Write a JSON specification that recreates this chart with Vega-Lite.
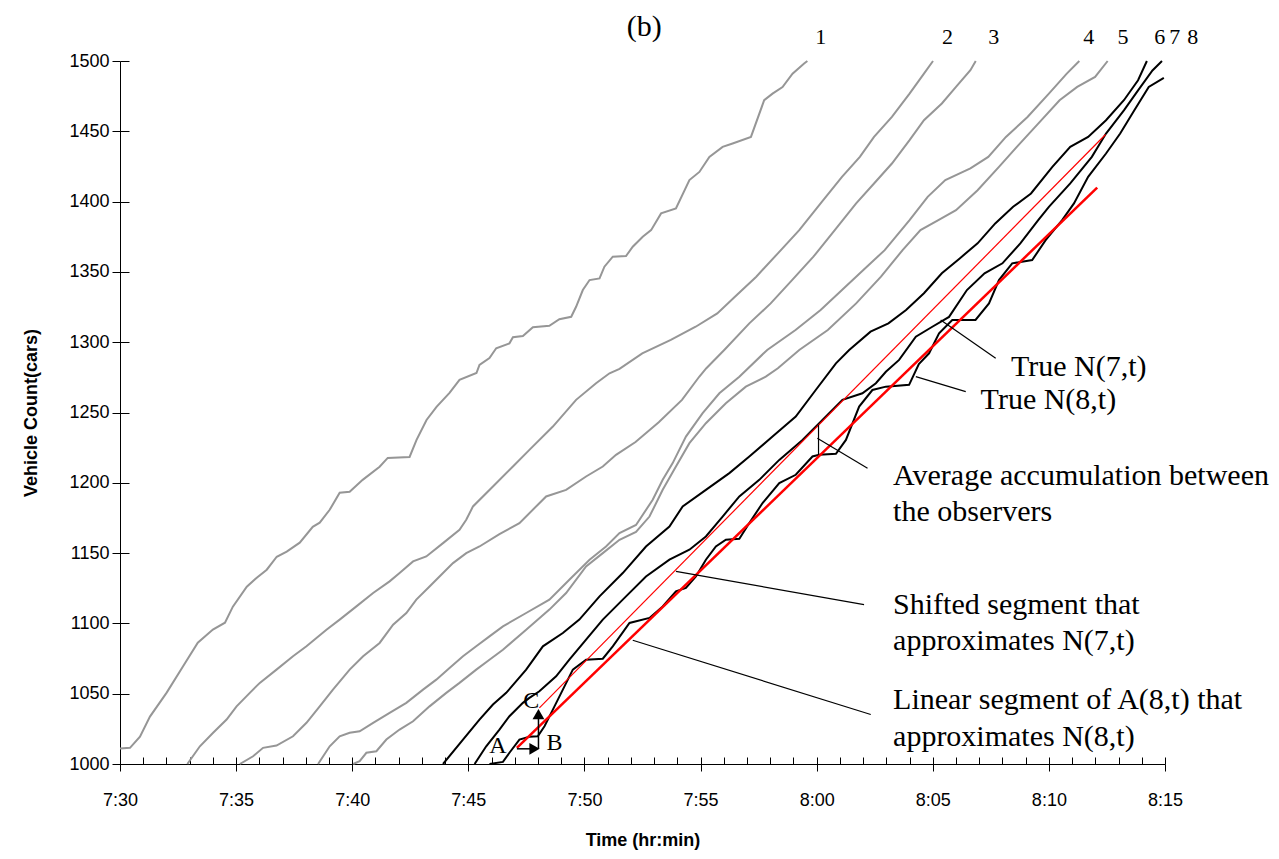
{
  "$schema": "https://vega.github.io/schema/vega-lite/v6.json",
  "width": 1045,
  "height": 703,
  "autosize": {"type": "none"},
  "padding": {"left": 120, "top": 61, "right": 114, "bottom": 95},
  "background": "white",
  "config": {"view": {"stroke": null}, "axis": {"grid": false}},
  "resolve": {"axis": {"x": "independent", "y": "independent"}},
  "datasets": {
    "curves": [
      {"curve":1,"time":0,"count":1011},{"curve":1,"time":0.43,"count":1011.5},{"curve":1,"time":0.86,"count":1019.5},{"curve":1,"time":1.29,"count":1033.7},{"curve":1,"time":2.01,"count":1050.8},{"curve":1,"time":2.71,"count":1069.3},{"curve":1,"time":3.35,"count":1086.3},{"curve":1,"time":4.0,"count":1095.6},{"curve":1,"time":4.52,"count":1100.5},{"curve":1,"time":4.86,"count":1111.9},{"curve":1,"time":5.46,"count":1126.1},{"curve":1,"time":5.89,"count":1132.5},{"curve":1,"time":6.32,"count":1138.2},{"curve":1,"time":6.75,"count":1147.4},{"curve":1,"time":7.18,"count":1151},{"curve":1,"time":7.74,"count":1157.4},{"curve":1,"time":8.3,"count":1168.7},{"curve":1,"time":8.6,"count":1171.6},{"curve":1,"time":9.03,"count":1180.8},{"curve":1,"time":9.46,"count":1192.9},{"curve":1,"time":9.89,"count":1193.6},{"curve":1,"time":10.45,"count":1202.1},{"curve":1,"time":11.18,"count":1211.4},{"curve":1,"time":11.53,"count":1217.7},{"curve":1,"time":12.47,"count":1218.4},{"curve":1,"time":12.77,"count":1230.5},{"curve":1,"time":13.2,"count":1244.7},{"curve":1,"time":13.63,"count":1254},{"curve":1,"time":14.19,"count":1263.9},{"curve":1,"time":14.62,"count":1273.2},{"curve":1,"time":15.35,"count":1278.1},{"curve":1,"time":15.48,"count":1283.8},{"curve":1,"time":15.91,"count":1288.7},{"curve":1,"time":16.2,"count":1295.7},{"curve":1,"time":16.77,"count":1299.2},{"curve":1,"time":16.92,"count":1303.5},{"curve":1,"time":17.35,"count":1304.4},{"curve":1,"time":17.78,"count":1310.6},{"curve":1,"time":18.49,"count":1311.7},{"curve":1,"time":18.92,"count":1316.3},{"curve":1,"time":19.43,"count":1318.1},{"curve":1,"time":19.64,"count":1325.2},{"curve":1,"time":19.93,"count":1337.1},{"curve":1,"time":20.22,"count":1344.2},{"curve":1,"time":20.65,"count":1345.4},{"curve":1,"time":20.86,"count":1353.7},{"curve":1,"time":21.22,"count":1360.8},{"curve":1,"time":21.79,"count":1361.3},{"curve":1,"time":22.08,"count":1367.9},{"curve":1,"time":22.51,"count":1375},{"curve":1,"time":22.87,"count":1379.7},{"curve":1,"time":23.3,"count":1391.6},{"curve":1,"time":23.94,"count":1395.1},{"curve":1,"time":24.52,"count":1415.3},{"curve":1,"time":24.95,"count":1421.1},{"curve":1,"time":25.38,"count":1431.8},{"curve":1,"time":25.95,"count":1438.9},{"curve":1,"time":26.38,"count":1441.3},{"curve":1,"time":27.17,"count":1446},{"curve":1,"time":27.74,"count":1472.1},{"curve":1,"time":28.1,"count":1476.8},{"curve":1,"time":28.53,"count":1481.5},{"curve":1,"time":28.96,"count":1491},{"curve":1,"time":29.46,"count":1498.2},{"curve":1,"time":29.6,"count":1500},
      {"curve":2,"time":2.9,"count":1000},{"curve":2,"time":3.44,"count":1012.6},{"curve":2,"time":4.01,"count":1022.2},{"curve":2,"time":4.59,"count":1031.6},{"curve":2,"time":5.02,"count":1041},{"curve":2,"time":5.59,"count":1050.6},{"curve":2,"time":6.02,"count":1057.7},{"curve":2,"time":6.74,"count":1067.1},{"curve":2,"time":7.45,"count":1076.6},{"curve":2,"time":8.03,"count":1083.7},{"curve":2,"time":8.89,"count":1095.5},{"curve":2,"time":9.46,"count":1102.7},{"curve":2,"time":10.18,"count":1112.1},{"curve":2,"time":10.9,"count":1121.6},{"curve":2,"time":11.61,"count":1129.9},{"curve":2,"time":12.04,"count":1135.8},{"curve":2,"time":12.62,"count":1144.1},{"curve":2,"time":13.19,"count":1147.6},{"curve":2,"time":13.91,"count":1157.1},{"curve":2,"time":14.62,"count":1166.6},{"curve":2,"time":14.91,"count":1173.7},{"curve":2,"time":15.2,"count":1183.2},{"curve":2,"time":16.06,"count":1197.4},{"curve":2,"time":16.92,"count":1211.6},{"curve":2,"time":17.63,"count":1223.4},{"curve":2,"time":18.64,"count":1240},{"curve":2,"time":19.64,"count":1259},{"curve":2,"time":20.5,"count":1270.8},{"curve":2,"time":21.08,"count":1277.9},{"curve":2,"time":21.51,"count":1281},{"curve":2,"time":22.49,"count":1292.1},{"curve":2,"time":23.72,"count":1301.6},{"curve":2,"time":24.79,"count":1311},{"curve":2,"time":25.72,"count":1320.5},{"curve":2,"time":26.48,"count":1332.3},{"curve":2,"time":27.4,"count":1346.6},{"curve":2,"time":28.33,"count":1363.2},{"curve":2,"time":29.25,"count":1379.7},{"curve":2,"time":30.17,"count":1398.7},{"curve":2,"time":31.09,"count":1417.6},{"curve":2,"time":31.86,"count":1431.8},{"curve":2,"time":32.47,"count":1446},{"curve":2,"time":33.24,"count":1460.2},{"curve":2,"time":34,"count":1476.8},{"curve":2,"time":34.62,"count":1491},{"curve":2,"time":35.01,"count":1500},
      {"curve":3,"time":5.16,"count":1000},{"curve":3,"time":5.73,"count":1005.5},{"curve":3,"time":6.16,"count":1011.5},{"curve":3,"time":6.74,"count":1013.1},{"curve":3,"time":7.45,"count":1019.7},{"curve":3,"time":8.03,"count":1029.3},{"curve":3,"time":8.6,"count":1041},{"curve":3,"time":9.17,"count":1052.9},{"curve":3,"time":9.89,"count":1067.1},{"curve":3,"time":10.47,"count":1076.6},{"curve":3,"time":11.18,"count":1086.1},{"curve":3,"time":11.76,"count":1099.1},{"curve":3,"time":12.33,"count":1107.4},{"curve":3,"time":12.76,"count":1116.9},{"curve":3,"time":13.33,"count":1126.3},{"curve":3,"time":13.91,"count":1135.8},{"curve":3,"time":14.34,"count":1142.9},{"curve":3,"time":14.91,"count":1150},{"curve":3,"time":15.48,"count":1154.7},{"curve":3,"time":16.34,"count":1163.5},{"curve":3,"time":17.2,"count":1171.3},{"curve":3,"time":18.35,"count":1190.3},{"curve":3,"time":19.21,"count":1195},{"curve":3,"time":20.07,"count":1204.5},{"curve":3,"time":20.79,"count":1211.6},{"curve":3,"time":21.36,"count":1219.9},{"curve":3,"time":22.2,"count":1229},{"curve":3,"time":23.2,"count":1243},{"curve":3,"time":24.2,"count":1259},{"curve":3,"time":24.95,"count":1275.6},{"curve":3,"time":25.25,"count":1281.5},{"curve":3,"time":26.02,"count":1294.5},{"curve":3,"time":27.1,"count":1313.4},{"curve":3,"time":28.02,"count":1327.6},{"curve":3,"time":28.94,"count":1344.2},{"curve":3,"time":29.86,"count":1360.8},{"curve":3,"time":30.78,"count":1379.7},{"curve":3,"time":31.7,"count":1398.7},{"curve":3,"time":32.47,"count":1412.9},{"curve":3,"time":33.24,"count":1427.1},{"curve":3,"time":34,"count":1443.7},{"curve":3,"time":34.62,"count":1457.9},{"curve":3,"time":35.39,"count":1469.8},{"curve":3,"time":36,"count":1481.6},{"curve":3,"time":36.62,"count":1493.5},{"curve":3,"time":36.85,"count":1500},
      {"curve":4,"time":8.53,"count":1000},{"curve":4,"time":9.03,"count":1012.6},{"curve":4,"time":9.46,"count":1019.7},{"curve":4,"time":9.89,"count":1022.2},{"curve":4,"time":10.32,"count":1023.3},{"curve":4,"time":10.9,"count":1029.3},{"curve":4,"time":11.61,"count":1036.4},{"curve":4,"time":12.33,"count":1043.5},{"curve":4,"time":13.05,"count":1052.9},{"curve":4,"time":13.62,"count":1060},{"curve":4,"time":14.19,"count":1068.3},{"curve":4,"time":14.77,"count":1076.6},{"curve":4,"time":15.34,"count":1083.7},{"curve":4,"time":15.91,"count":1090.8},{"curve":4,"time":16.49,"count":1097.9},{"curve":4,"time":17.49,"count":1107.4},{"curve":4,"time":18.49,"count":1116.9},{"curve":4,"time":19.35,"count":1131.1},{"curve":4,"time":20.22,"count":1145.3},{"curve":4,"time":20.93,"count":1154.7},{"curve":4,"time":21.51,"count":1164.2},{"curve":4,"time":22.22,"count":1170},{"curve":4,"time":22.94,"count":1187.9},{"curve":4,"time":23.37,"count":1202.1},{"curve":4,"time":23.8,"count":1214},{"curve":4,"time":24.37,"count":1232.9},{"curve":4,"time":25.09,"count":1249.5},{"curve":4,"time":25.81,"count":1263.7},{"curve":4,"time":26.67,"count":1275.5},{"curve":4,"time":27.87,"count":1294.5},{"curve":4,"time":29.09,"count":1308.7},{"curve":4,"time":30.17,"count":1322.9},{"curve":4,"time":31.09,"count":1337.1},{"curve":4,"time":32.01,"count":1351.3},{"curve":4,"time":32.93,"count":1365.5},{"curve":4,"time":34,"count":1386.8},{"curve":4,"time":34.78,"count":1403.4},{"curve":4,"time":35.54,"count":1415.3},{"curve":4,"time":36.62,"count":1423.6},{"curve":4,"time":37.39,"count":1431.8},{"curve":4,"time":38.15,"count":1446},{"curve":4,"time":39.08,"count":1460.2},{"curve":4,"time":40,"count":1476.8},{"curve":4,"time":40.77,"count":1491},{"curve":4,"time":41.31,"count":1500},
      {"curve":5,"time":10.04,"count":1000},{"curve":5,"time":10.32,"count":1002},{"curve":5,"time":10.61,"count":1008},{"curve":5,"time":11.04,"count":1009.1},{"curve":5,"time":11.47,"count":1017.4},{"curve":5,"time":12.04,"count":1024.5},{"curve":5,"time":12.62,"count":1030.4},{"curve":5,"time":13.33,"count":1041},{"curve":5,"time":14.05,"count":1050.6},{"curve":5,"time":14.62,"count":1057.7},{"curve":5,"time":15.34,"count":1067.1},{"curve":5,"time":15.91,"count":1074.2},{"curve":5,"time":16.49,"count":1081.3},{"curve":5,"time":17.49,"count":1095.5},{"curve":5,"time":18.49,"count":1109.8},{"curve":5,"time":19.21,"count":1121.6},{"curve":5,"time":20.07,"count":1140.5},{"curve":5,"time":20.79,"count":1150},{"curve":5,"time":21.51,"count":1159.5},{"curve":5,"time":22.22,"count":1165},{"curve":5,"time":22.8,"count":1176},{"curve":5,"time":23.37,"count":1195},{"curve":5,"time":23.94,"count":1211.6},{"curve":5,"time":24.52,"count":1228.2},{"curve":5,"time":25.23,"count":1242.4},{"curve":5,"time":26.09,"count":1256.6},{"curve":5,"time":26.95,"count":1268.4},{"curve":5,"time":27.81,"count":1275.5},{"curve":5,"time":28.33,"count":1281.5},{"curve":5,"time":29.25,"count":1294.5},{"curve":5,"time":30.48,"count":1308.7},{"curve":5,"time":31.7,"count":1327.6},{"curve":5,"time":32.77,"count":1346.6},{"curve":5,"time":33.7,"count":1365.5},{"curve":5,"time":34.47,"count":1379.7},{"curve":5,"time":35.24,"count":1386.8},{"curve":5,"time":36,"count":1393.9},{"curve":5,"time":36.93,"count":1408.1},{"curve":5,"time":37.85,"count":1424.7},{"curve":5,"time":38.62,"count":1438.9},{"curve":5,"time":39.54,"count":1455.5},{"curve":5,"time":40.46,"count":1472.1},{"curve":5,"time":41.22,"count":1481.6},{"curve":5,"time":41.99,"count":1488.7},{"curve":5,"time":42.53,"count":1500},
      {"curve":6,"time":13.91,"count":1000},{"curve":6,"time":14.77,"count":1017.4},{"curve":6,"time":15.48,"count":1031.6},{"curve":6,"time":16.06,"count":1042.3},{"curve":6,"time":16.63,"count":1050.6},{"curve":6,"time":17.49,"count":1067.1},{"curve":6,"time":18.21,"count":1083.7},{"curve":6,"time":19.07,"count":1093.2},{"curve":6,"time":19.78,"count":1102.7},{"curve":6,"time":20.65,"count":1119.2},{"curve":6,"time":21.65,"count":1135.8},{"curve":6,"time":22.65,"count":1154.7},{"curve":6,"time":23.66,"count":1168.9},{"curve":6,"time":24.23,"count":1183.2},{"curve":6,"time":25.23,"count":1195},{"curve":6,"time":26.24,"count":1206.9},{"curve":6,"time":27.1,"count":1218.7},{"curve":6,"time":28.1,"count":1232.9},{"curve":6,"time":29.1,"count":1247.1},{"curve":6,"time":29.96,"count":1266},{"curve":6,"time":30.83,"count":1285},{"curve":6,"time":31.4,"count":1294.5},{"curve":6,"time":32.32,"count":1307.5},{"curve":6,"time":33.09,"count":1313.4},{"curve":6,"time":33.85,"count":1322.9},{"curve":6,"time":34.62,"count":1334.8},{"curve":6,"time":35.39,"count":1349},{"curve":6,"time":36.16,"count":1359.6},{"curve":6,"time":36.93,"count":1370.3},{"curve":6,"time":37.69,"count":1384.5},{"curve":6,"time":38.46,"count":1396.3},{"curve":6,"time":39.23,"count":1405.8},{"curve":6,"time":40.15,"count":1424.7},{"curve":6,"time":40.92,"count":1438.9},{"curve":6,"time":41.69,"count":1446},{"curve":6,"time":42.46,"count":1457.9},{"curve":6,"time":43.23,"count":1472.1},{"curve":6,"time":43.84,"count":1486.3},{"curve":6,"time":44.22,"count":1500},
      {"curve":7,"time":15.27,"count":1000},{"curve":7,"time":15.77,"count":1012.6},{"curve":7,"time":16.34,"count":1024.5},{"curve":7,"time":16.77,"count":1034},{"curve":7,"time":17.35,"count":1043.5},{"curve":7,"time":17.63,"count":1047},{"curve":7,"time":18.06,"count":1051.7},{"curve":7,"time":18.78,"count":1062.4},{"curve":7,"time":19.35,"count":1074.2},{"curve":7,"time":20.07,"count":1088.4},{"curve":7,"time":20.79,"count":1102.7},{"curve":7,"time":21.65,"count":1116.9},{"curve":7,"time":22.65,"count":1133.4},{"curve":7,"time":23.66,"count":1145.3},{"curve":7,"time":24.52,"count":1152.4},{"curve":7,"time":25.23,"count":1161.8},{"curve":7,"time":25.95,"count":1176},{"curve":7,"time":26.67,"count":1190.3},{"curve":7,"time":27.53,"count":1202.1},{"curve":7,"time":28.39,"count":1216.3},{"curve":7,"time":29.39,"count":1230.5},{"curve":7,"time":30.11,"count":1242.4},{"curve":7,"time":31.11,"count":1259},{"curve":7,"time":31.97,"count":1263.7},{"curve":7,"time":32.55,"count":1270.8},{"curve":7,"time":32.98,"count":1279},{"curve":7,"time":33.55,"count":1287.4},{"curve":7,"time":34.27,"count":1303.9},{"curve":7,"time":34.98,"count":1311},{"curve":7,"time":35.7,"count":1318},{"curve":7,"time":36.47,"count":1337.1},{"curve":7,"time":37.23,"count":1349},{"curve":7,"time":38,"count":1356.1},{"curve":7,"time":38.77,"count":1370.3},{"curve":7,"time":39.54,"count":1386.8},{"curve":7,"time":40,"count":1396.3},{"curve":7,"time":40.92,"count":1412.9},{"curve":7,"time":41.85,"count":1431.8},{"curve":7,"time":42.46,"count":1448.4},{"curve":7,"time":43.23,"count":1464.9},{"curve":7,"time":43.84,"count":1479.1},{"curve":7,"time":44.46,"count":1493.3},{"curve":7,"time":44.87,"count":1500},
      {"curve":8,"time":15.91,"count":1000},{"curve":8,"time":16.49,"count":1001.5},{"curve":8,"time":16.77,"count":1008},{"curve":8,"time":17.2,"count":1017.4},{"curve":8,"time":17.63,"count":1019.3},{"curve":8,"time":17.99,"count":1019.7},{"curve":8,"time":18.28,"count":1026.9},{"curve":8,"time":18.64,"count":1038.7},{"curve":8,"time":19.07,"count":1052.9},{"curve":8,"time":19.5,"count":1067.1},{"curve":8,"time":20.07,"count":1074.2},{"curve":8,"time":20.79,"count":1074.9},{"curve":8,"time":21.22,"count":1083.7},{"curve":8,"time":21.94,"count":1100.3},{"curve":8,"time":22.8,"count":1103.9},{"curve":8,"time":23.37,"count":1112.1},{"curve":8,"time":23.94,"count":1122.8},{"curve":8,"time":24.37,"count":1125.2},{"curve":8,"time":24.8,"count":1133.4},{"curve":8,"time":25.23,"count":1145.3},{"curve":8,"time":25.66,"count":1154.7},{"curve":8,"time":26.09,"count":1159.5},{"curve":8,"time":26.67,"count":1160.2},{"curve":8,"time":27.1,"count":1171.4},{"curve":8,"time":27.67,"count":1185.6},{"curve":8,"time":28.39,"count":1199.8},{"curve":8,"time":29.1,"count":1205.7},{"curve":8,"time":29.82,"count":1218.7},{"curve":8,"time":30.11,"count":1219.9},{"curve":8,"time":30.83,"count":1220.6},{"curve":8,"time":31.26,"count":1230.5},{"curve":8,"time":31.83,"count":1254.2},{"curve":8,"time":32.4,"count":1266},{"curve":8,"time":32.98,"count":1268.4},{"curve":8,"time":33.98,"count":1269.7},{"curve":8,"time":34.4,"count":1284.4},{"curve":8,"time":34.84,"count":1292.1},{"curve":8,"time":35.27,"count":1306.3},{"curve":8,"time":35.84,"count":1315.8},{"curve":8,"time":36.84,"count":1315.8},{"curve":8,"time":37.42,"count":1327.6},{"curve":8,"time":37.85,"count":1344.2},{"curve":8,"time":38.42,"count":1356.1},{"curve":8,"time":39.28,"count":1358.4},{"curve":8,"time":39.86,"count":1372.6},{"curve":8,"time":40.57,"count":1386.8},{"curve":8,"time":41.08,"count":1398.7},{"curve":8,"time":41.69,"count":1417.6},{"curve":8,"time":42.46,"count":1434.2},{"curve":8,"time":43.07,"count":1448.4},{"curve":8,"time":43.68,"count":1464.9},{"curve":8,"time":44.3,"count":1481.6},{"curve":8,"time":44.95,"count":1488}
    ],
    "shifted": [{"time":18.06,"count":1039.9},{"time":42.44,"count":1447.7}],
    "linear": [{"time":17.09,"count":1011.5},{"time":42.08,"count":1410}],
    "pointers": [
      {"time":35.34,"count":1315.8,"time2":37.71,"count2":1288.6},
      {"time":34.27,"count":1275.5,"time2":36.42,"count2":1264.8},
      {"time":30.03,"count":1231.7,"time2":32.19,"count2":1210.4},
      {"time":30.08,"count":1241.2,"time2":30.08,"count2":1219.9},
      {"time":23.94,"count":1137,"time2":32.04,"count2":1113.3},
      {"time":22.08,"count":1088,"time2":32.33,"count2":1035.2}
    ],
    "arrows": [
      {"time":17.09,"count":1010.8,"time2":17.85,"count2":1010.8},
      {"time":18.02,"count":1010.8,"time2":18.02,"count2":1036}
    ],
    "heads": [
      {"time":17.85,"count":1010.8,"shape":"triangle-right"},
      {"time":18.02,"count":1035.5,"shape":"triangle-up"}
    ],
    "notes": [
      {"time":38.37,"count":1282.4,"label":"True N(7,t)"},
      {"time":37.06,"count":1258.9,"label":"True N(8,t)"},
      {"time":33.29,"count":1204.5,"label":"Average accumulation between"},
      {"time":33.29,"count":1179.4,"label":"the observers"},
      {"time":33.29,"count":1113.3,"label":"Shifted segment that"},
      {"time":33.29,"count":1087.7,"label":"approximates N(7,t)"},
      {"time":33.29,"count":1045.8,"label":"Linear segment of A(8,t) that"},
      {"time":33.29,"count":1019.5,"label":"approximates N(8,t)"}
    ],
    "letters": [
      {"time":16.27,"count":1012.6,"label":"A"},
      {"time":18.71,"count":1014.6,"label":"B"},
      {"time":17.71,"count":1044.6,"label":"C"}
    ],
    "numbers": [
      {"time":30.18,"count":1516.8,"label":"1"},
      {"time":35.63,"count":1516.8,"label":"2"},
      {"time":37.63,"count":1516.8,"label":"3"},
      {"time":41.72,"count":1516.8,"label":"4"},
      {"time":43.19,"count":1516.8,"label":"5"},
      {"time":44.77,"count":1516.8,"label":"6"},
      {"time":45.42,"count":1516.8,"label":"7"},
      {"time":46.19,"count":1516.8,"label":"8"}
    ],
    "heading": [{"time":22.58,"count":1524.1,"label":"(b)"}]
  },
  "layer": [
    {
      "data": {"name": "curves"},
      "mark": {"type": "line", "strokeWidth": 2, "interpolate": "linear"},
      "encoding": {
        "x": {"field": "time", "type": "quantitative", "scale": {"domain": [0, 45], "nice": false, "zero": false},
          "axis": {"orient": "bottom", "values": [0,5,10,15,20,25,30,35,40,45],
            "labelExpr": "floor((450 + datum.value) / 60) + ':' + ((450 + datum.value) % 60 < 10 ? '0' : '') + ((450 + datum.value) % 60)",
            "tickSize": 7, "tickColor": "black", "tickWidth": 1, "domain": true, "domainColor": "black", "domainWidth": 1,
            "labelFont": "Liberation Sans", "labelFontSize": 18, "labelColor": "black", "labelPadding": 20, "labelFlush": false, "labelOverlap": false,
            "title": "Time (hr:min)", "titleFont": "Liberation Sans", "titleFontSize": 18, "titleFontWeight": "bold", "titleColor": "black", "titlePadding": 22}},
        "y": {"field": "count", "type": "quantitative", "scale": {"domain": [1000, 1500], "nice": false, "zero": false},
          "axis": {"orient": "left", "values": [1000,1050,1100,1150,1200,1250,1300,1350,1400,1450,1500], "format": "d",
            "tickSize": 8, "tickColor": "black", "tickWidth": 1, "domain": true, "domainColor": "black", "domainWidth": 1,
            "labelFont": "Liberation Sans", "labelFontSize": 18, "labelColor": "black", "labelPadding": 3, "labelFlush": false, "labelOverlap": false,
            "title": "Vehicle Count(cars)", "titleFont": "Liberation Sans", "titleFontSize": 18, "titleFontWeight": "bold", "titleColor": "black", "titlePadding": 28}},
        "color": {"field": "curve", "type": "nominal", "scale": {"domain": [1,2,3,4,5,6,7,8], "range": ["#969696","#969696","#969696","#969696","#969696","#000000","#000000","#000000"]}, "legend": null}
      }
    },
    {
      "data": {"name": "shifted"},
      "mark": {"type": "line", "color": "#ff0000", "strokeWidth": 1.2},
      "encoding": {
        "x": {"field": "time", "type": "quantitative", "scale": {"domain": [0, 45], "nice": false, "zero": false},
          "axis": {"orient": "bottom", "values": [0,1,2,3,4,5,6,7,8,9,10,11,12,13,14,15,16,17,18,19,20,21,22,23,24,25,26,27,28,29,30,31,32,33,34,35,36,37,38,39,40,41,42,43,44,45],
            "tickSize": -7, "tickColor": "black", "tickWidth": 1, "labels": false, "domain": false, "title": null}},
        "y": {"field": "count", "type": "quantitative", "scale": {"domain": [1000, 1500], "nice": false, "zero": false},
          "axis": {"orient": "left", "values": [1000,1050,1100,1150,1200,1250,1300,1350,1400,1450,1500],
            "tickSize": -9, "tickColor": "black", "tickWidth": 1, "labels": false, "domain": false, "title": null}}
      }
    },
    {
      "data": {"name": "linear"},
      "mark": {"type": "line", "color": "#ff0000", "strokeWidth": 2.5},
      "encoding": {
        "x": {"field": "time", "type": "quantitative", "scale": {"domain": [0, 45], "nice": false, "zero": false}, "axis": null},
        "y": {"field": "count", "type": "quantitative", "scale": {"domain": [1000, 1500], "nice": false, "zero": false}, "axis": null}
      }
    },
    {
      "data": {"name": "pointers"},
      "mark": {"type": "rule", "color": "black", "strokeWidth": 1.2},
      "encoding": {
        "x": {"field": "time", "type": "quantitative", "scale": {"domain": [0, 45], "nice": false, "zero": false}, "axis": null},
        "y": {"field": "count", "type": "quantitative", "scale": {"domain": [1000, 1500], "nice": false, "zero": false}, "axis": null},
        "x2": {"field": "time2"},
        "y2": {"field": "count2"}
      }
    },
    {
      "data": {"name": "arrows"},
      "mark": {"type": "rule", "color": "black", "strokeWidth": 1.5},
      "encoding": {
        "x": {"field": "time", "type": "quantitative", "scale": {"domain": [0, 45], "nice": false, "zero": false}, "axis": null},
        "y": {"field": "count", "type": "quantitative", "scale": {"domain": [1000, 1500], "nice": false, "zero": false}, "axis": null},
        "x2": {"field": "time2"},
        "y2": {"field": "count2"}
      }
    },
    {
      "data": {"name": "heads"},
      "mark": {"type": "point", "filled": true, "color": "black", "opacity": 1, "size": 140},
      "encoding": {
        "x": {"field": "time", "type": "quantitative", "scale": {"domain": [0, 45], "nice": false, "zero": false}, "axis": null},
        "y": {"field": "count", "type": "quantitative", "scale": {"domain": [1000, 1500], "nice": false, "zero": false}, "axis": null},
        "shape": {"field": "shape", "type": "nominal", "scale": null}
      }
    },
    {
      "data": {"name": "notes"},
      "mark": {"type": "text", "align": "left", "baseline": "middle", "font": "Liberation Serif", "fontSize": 30, "color": "black"},
      "encoding": {
        "x": {"field": "time", "type": "quantitative", "scale": {"domain": [0, 45], "nice": false, "zero": false}, "axis": null},
        "y": {"field": "count", "type": "quantitative", "scale": {"domain": [1000, 1500], "nice": false, "zero": false}, "axis": null},
        "text": {"field": "label", "type": "nominal"}
      }
    },
    {
      "data": {"name": "letters"},
      "mark": {"type": "text", "align": "center", "baseline": "middle", "font": "Liberation Serif", "fontSize": 24, "color": "black"},
      "encoding": {
        "x": {"field": "time", "type": "quantitative", "scale": {"domain": [0, 45], "nice": false, "zero": false}, "axis": null},
        "y": {"field": "count", "type": "quantitative", "scale": {"domain": [1000, 1500], "nice": false, "zero": false}, "axis": null},
        "text": {"field": "label", "type": "nominal"}
      }
    },
    {
      "data": {"name": "numbers"},
      "mark": {"type": "text", "align": "center", "baseline": "middle", "font": "Liberation Serif", "fontSize": 22, "color": "black"},
      "encoding": {
        "x": {"field": "time", "type": "quantitative", "scale": {"domain": [0, 45], "nice": false, "zero": false}, "axis": null},
        "y": {"field": "count", "type": "quantitative", "scale": {"domain": [1000, 1500], "nice": false, "zero": false}, "axis": null},
        "text": {"field": "label", "type": "nominal"}
      }
    },
    {
      "data": {"name": "heading"},
      "mark": {"type": "text", "align": "center", "baseline": "middle", "font": "Liberation Serif", "fontSize": 30, "color": "black"},
      "encoding": {
        "x": {"field": "time", "type": "quantitative", "scale": {"domain": [0, 45], "nice": false, "zero": false}, "axis": null},
        "y": {"field": "count", "type": "quantitative", "scale": {"domain": [1000, 1500], "nice": false, "zero": false}, "axis": null},
        "text": {"field": "label", "type": "nominal"}
      }
    }
  ]
}
